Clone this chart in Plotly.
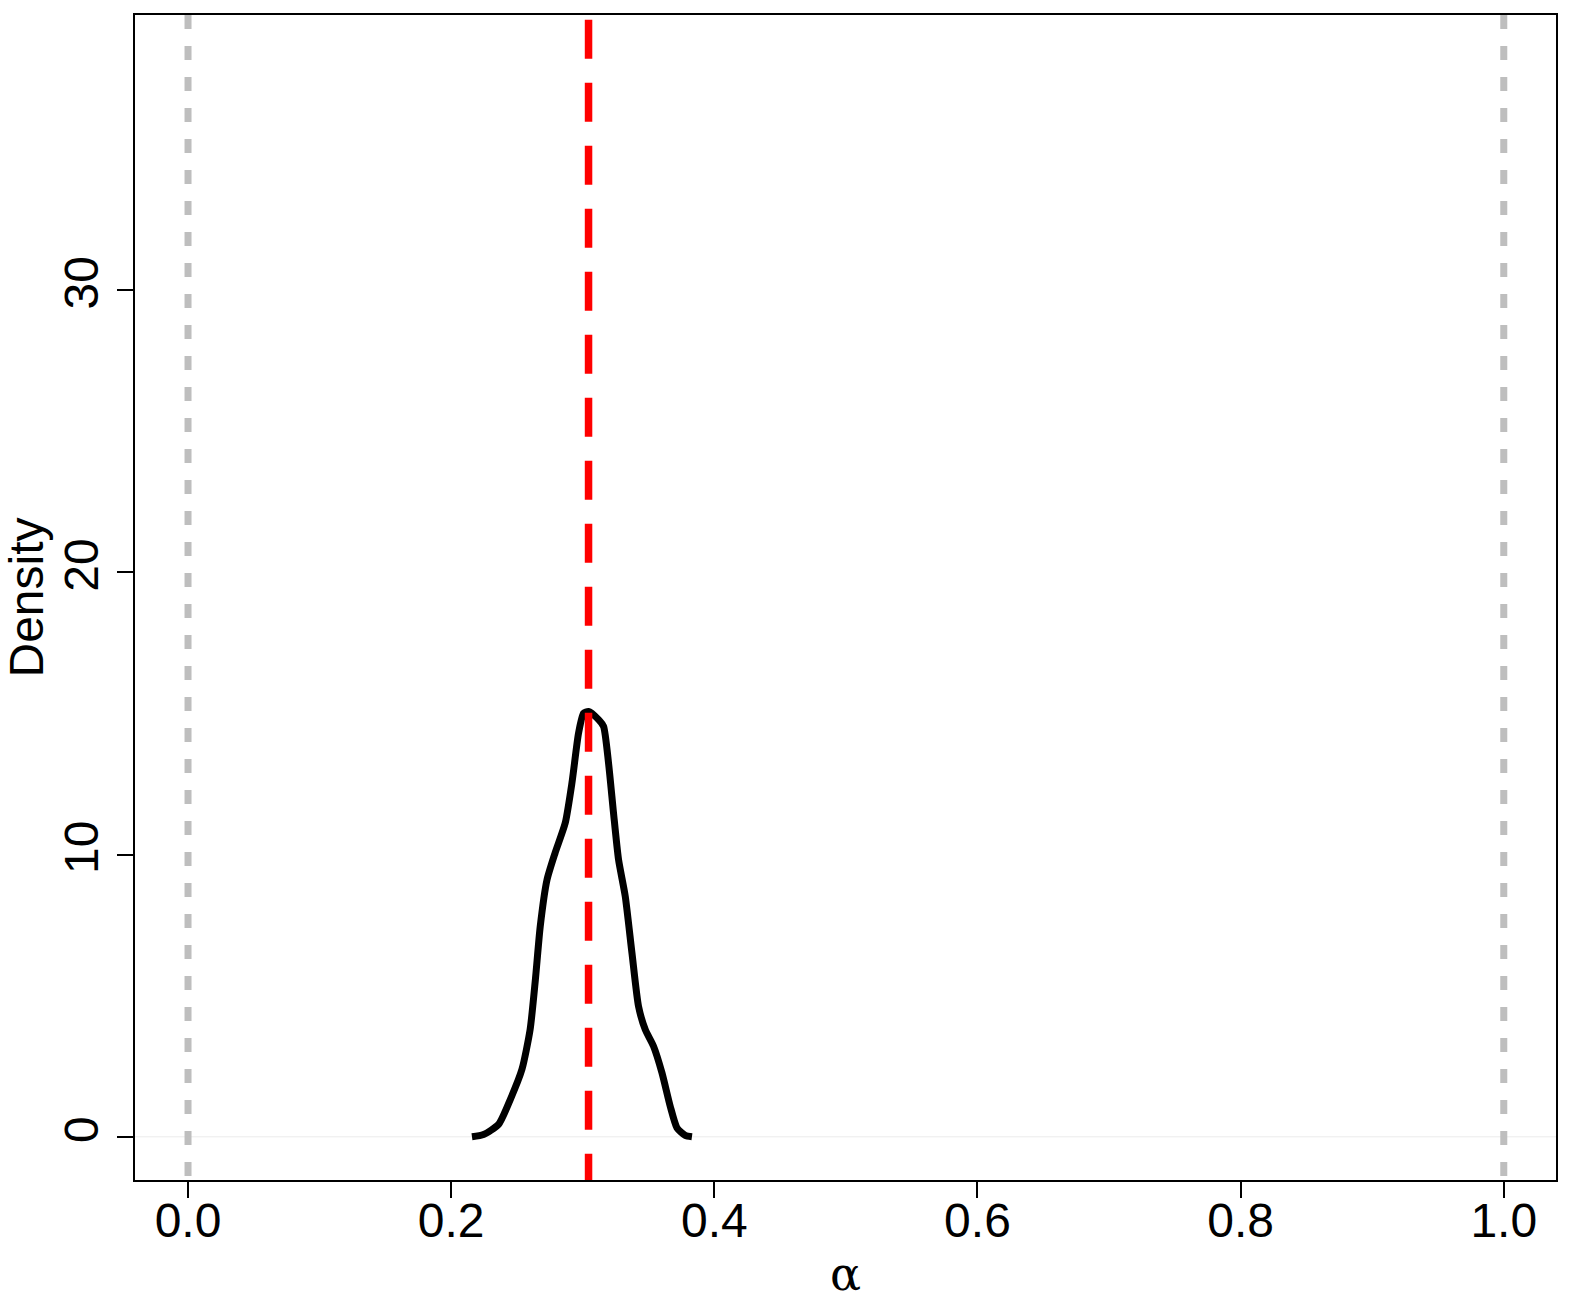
import plotly.graph_objects as go

# Density curve of alpha
alpha = [0.2158, 0.2246, 0.236, 0.245, 0.2538, 0.260, 0.264, 0.2677, 0.2728, 0.279,
         0.2867, 0.2918, 0.2968, 0.3006, 0.3044, 0.312, 0.3158, 0.3196, 0.3234, 0.3272,
         0.3323, 0.3374, 0.3424, 0.3475, 0.3538, 0.3602, 0.3665, 0.3716, 0.3779, 0.383]
density = [0.0, 0.08, 0.44, 1.33, 2.39, 3.8, 5.57, 7.46, 9.1, 10.06,
           11.12, 12.54, 14.3, 15.0, 15.07, 14.78, 14.54, 13.24, 11.47, 9.82,
           8.52, 6.51, 4.62, 3.8, 3.21, 2.27, 1.08, 0.32, 0.05, 0.0]

estimate = 0.3044          # red dashed line
bounds = [0.0, 1.0]        # gray dotted lines

x_ticks = [0.0, 0.2, 0.4, 0.6, 0.8, 1.0]
x_ticktext = ["0.0", "0.2", "0.4", "0.6", "0.8", "1.0"]
y_ticks = [0, 10, 20, 30]
y_ticktext = ["0", "10", "20", "30"]

fig = go.Figure()
fig.add_trace(go.Scatter(x=alpha, y=density, mode="lines",
                         line=dict(color="black", width=7, shape="spline", smoothing=0.6),
                         showlegend=False, hoverinfo="skip"))

shapes = []
shapes.append(dict(type="line", xref="paper", yref="y", x0=0, x1=1, y0=0, y1=0,
                   line=dict(color="#ebebeb", width=1), layer="below"))
for b in bounds:
    shapes.append(dict(type="line", xref="x", yref="paper", x0=b, x1=b, y0=1, y1=0,
                       line=dict(color="#BEBEBE", width=7, dash="14px,17px"), layer="above"))
shapes.append(dict(type="line", xref="x", yref="paper", x0=estimate, x1=estimate, y0=0.996, y1=0,
                   line=dict(color="#FF0000", width=7.5, dash="39px,24px"), layer="above"))

tickfont = dict(family="Liberation Sans, Arial, sans-serif", size=48, color="black")
fig.update_layout(
    width=1572, height=1301,
    margin=dict(l=135, r=16, t=15, b=121),
    paper_bgcolor="white", plot_bgcolor="white",
    shapes=shapes,
    xaxis=dict(range=[-0.0403, 1.0397], tickmode="array", tickvals=x_ticks, ticktext=x_ticktext,
               automargin=False, ticklabelstandoff=-18,
               showgrid=False, zeroline=False, showline=True, mirror=True,
               linecolor="black", linewidth=1.5, ticks="outside", ticklen=16, tickwidth=1.5,
               tickcolor="black", tickfont=tickfont,
               title=dict(text="α", font=dict(family="DejaVu Serif, Liberation Serif, serif", size=46, color="black"),
                          standoff=18)),
    yaxis=dict(range=[-1.53, 39.74], tickmode="array", tickvals=y_ticks, ticktext=y_ticktext,
               tickangle=-90, automargin=False,
               showgrid=False, zeroline=False, showline=True, mirror=True,
               linecolor="black", linewidth=1.5, ticks="outside", ticklen=16, tickwidth=1.5,
               tickcolor="black", tickfont=tickfont,
               title=dict(text="Density", font=dict(family="Liberation Sans, Arial, sans-serif", size=48, color="black"),
                          standoff=14)),
)

fig.write_html("out.html")
